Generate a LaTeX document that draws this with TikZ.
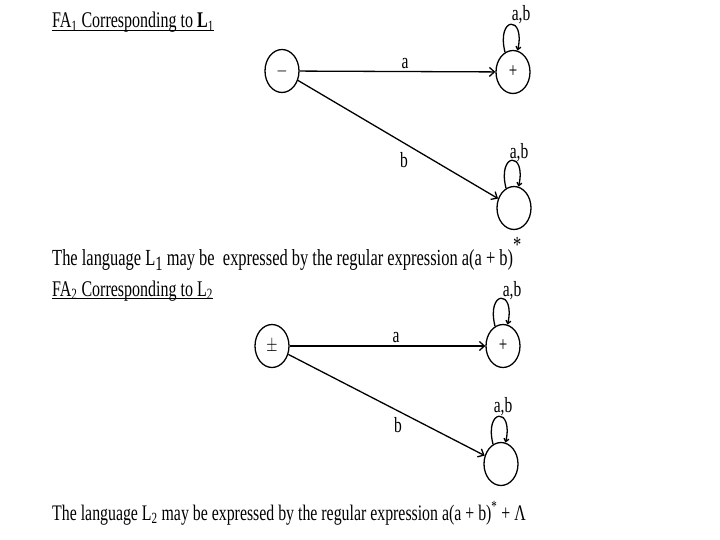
\documentclass[tikz,border=0pt]{standalone}
\usepackage{fontspec}
\setmainfont{Liberation Serif}
\usetikzlibrary{shapes.geometric,arrows.meta}
\newcommand\vsc[1]{\scalebox{1}[1.4]{#1}}
\begin{document}
\begin{tikzpicture}[x=1pt,y=-1pt,
  st/.style={ellipse,draw,line width=1.3pt,minimum width=34pt,minimum height=43pt,inner sep=0pt,font=\fontsize{15}{15}\selectfont},
  lab/.style={inner sep=0pt,font=\fontsize{15.5}{15.5}\selectfont},
  txt/.style={anchor=base west,inner sep=0pt,font=\fontsize{16}{18}\selectfont},
  tr/.style={line width=1.3pt,-{Straight Barb[length=5pt,width=9pt]}},
  lp/.style={line width=1.3pt,-{Straight Barb[length=3pt,width=5pt]}}]
\useasboundingbox (0,0) rectangle (720,540);
\fill[white] (0,0) rectangle (720,540);

% FA1
\node[txt] (t1) at (52,28) {\vsc{\underline{\smash{FA\textsubscript{1} Corresponding to \textbf{L}\textsubscript{1}}}}};
\node[st] (s1) at (282,71) {\vsc{$-$}};
\node[st] (p1) at (513,72) {\vsc{+}};
\node[st] (d1) at (514,208) {};
\draw[tr] (s1) -- (p1);
\draw[tr] (s1) -- (d1);
\node[lab] (la1) at (405,64) {\vsc{a}};
\node[lab] (lb1) at (404,160) {\vsc{b}};
\draw[lp] (p1.112) .. controls +(-9,-36) and +(8,-36) .. (p1.78);
\draw[lp] (d1.112) .. controls +(-9,-36) and +(8,-36) .. (d1.78);
\node[lab] (lab1) at (521,15) {\vsc{a,b}};
\node[lab] (lab2) at (519,153) {\vsc{a,b}};
\node[txt,font=\fontsize{16.45}{18}\selectfont] (e1) at (52,265) {\vsc{The language L\raisebox{-4pt}{\fontsize{14.5}{14}\selectfont 1} may be\ \ expressed by the regular expression a(a + b)\raisebox{9pt}{*}}};

% FA2
\node[txt] (t2) at (52,296) {\vsc{\underline{\smash{FA\textsubscript{2} Corresponding to L\textsubscript{2}}}}};
\node[st] (s2) at (272,346) {\vsc{$\pm$}};
\node[st] (p2) at (503,346) {\vsc{+}};
\node[st] (d2) at (501,464) {};
\draw[tr] (s2) -- (p2);
\draw[tr] (s2) -- (d2);
\node[lab] (la2) at (396,338) {\vsc{a}};
\node[lab] (lb2) at (398,425) {\vsc{b}};
\draw[lp] (p2.112) .. controls +(-9,-36) and +(8,-36) .. (p2.78);
\draw[lp] (d2.112) .. controls +(-9,-36) and +(8,-36) .. (d2.78);
\node[lab] (lab3) at (512,291) {\vsc{a,b}};
\node[lab] (lab4) at (503,407) {\vsc{a,b}};
\node[txt,font=\fontsize{15.85}{18}\selectfont] (e2) at (52,520) {\vsc{The language L\textsubscript{2} may be expressed by the regular expression a(a + b)\textsuperscript{*} + Λ}};
\end{tikzpicture}
\end{document}
